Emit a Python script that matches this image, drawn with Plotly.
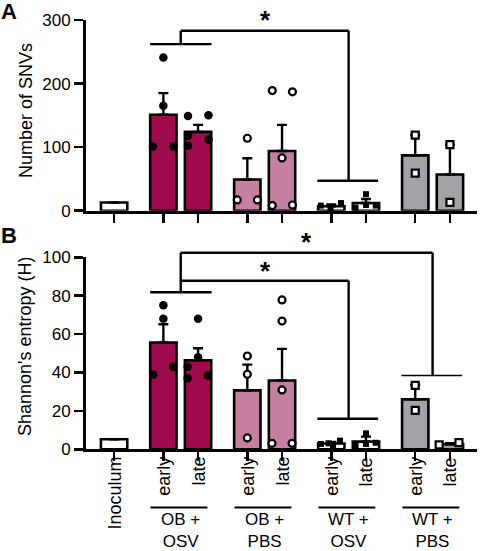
import plotly.graph_objects as go

# ---------------- data ----------------
categories = ["Inoculum", "early", "late", "early", "late", "early", "late", "early", "late"]
group_line1 = ["OB +", "OB +", "WT +", "WT +"]
group_line2 = ["OSV", "PBS", "OSV", "PBS"]

snv_mean = [13, 151, 124, 49, 94, 7, 12, 87, 57]
snv_sem = [0, 34, 11, 33.5, 41, 3, 6.5, 32, 47]
snv_points = [
    [241, 165, 101, 101],
    [149, 150, 118, 112, 102],
    [114, 17, 17],
    [189, 187, 83, 8, 9],
    [8, 4, 12],
    [26, 5, 9, 8],
    [119, 59],
    [104, 13],
]

ent_mean = [5.2, 55.6, 46.4, 30.7, 35.8, 3.0, 4.0, 26.0, 2.6]
ent_sem = [0, 9.5, 6.2, 13.4, 16.5, 0.8, 2.6, 7.5, 0.6]
ent_points = [
    [75, 68, 39, 43],
    [68, 48, 43, 37, 38.5],
    [48.6, 39.1, 5.9],
    [77.8, 66.8, 30.9, 3.1, 3.1],
    [2.8, 3.1, 4.5, 2.0],
    [8.3, 2.2, 2.8, 3.4],
    [33.3, 20.3],
    [2.3, 3.5],
]

# ---------------- layout / style (not data) ----------------
W, H = 480, 551
FONT = "Liberation Sans, Arial, Helvetica, sans-serif"
CRIMSON = "#9E0A4B"
PINK = "#C6809F"
GRAY = "#A3A3A7"
bar_colors = ["white", CRIMSON, CRIMSON, PINK, PINK, "white", "white", GRAY, GRAY]

# x positions: inoculum then 4 groups of (early, late)
GROUP_START, GROUP_STEP = 1.42, 2.42
positions = [0.0]
for g in range(4):
    positions += [GROUP_START + g * GROUP_STEP, GROUP_START + g * GROUP_STEP + 1]

snv_offsets = [
    [0, 0, -0.3, 0.29],
    [-0.29, 0.3, -0.29, 0.3, -0.29],
    [0, -0.29, 0.29],
    [-0.28, 0.3, 0, -0.28, 0.3],
    [-0.3, -0.02, 0.28],
    [0, -0.3, 0, 0.28],
    [0, 0],
    [0, 0],
]
ent_offsets = [
    [0, 0, -0.29, 0.28],
    [0, 0, -0.3, -0.3, 0.28],
    [0, 0, 0],
    [0, 0, 0, -0.29, 0.29],
    [-0.3, -0.08, 0.25, 0.05],
    [0, -0.3, 0, 0.28],
    [0, 0],
    [-0.31, 0.26],
]
marker_styles = [
    dict(symbol="circle", size=8.5, color="black", line=dict(width=0)),
    dict(symbol="circle", size=7, color="white", line=dict(width=2.2, color="black")),
    dict(symbol="square", size=6, color="black", line=dict(width=0)),
    dict(symbol="square", size=7, color="white", line=dict(width=2.2, color="black")),
]

XR = [-0.81, 10.46]
XD = [86 / W, 477 / W]
YA_D = [1 - 210.7 / H, 1 - 20 / H]
YB_D = [1 - 449.3 / H, 1 - 257.3 / H]
YA_R = [0, 300]
YB_R = [0, 100]


def xp(v):
    return XD[0] + (v - XR[0]) / (XR[1] - XR[0]) * (XD[1] - XD[0])


def ypa(v):
    return YA_D[0] + (v - YA_R[0]) / (YA_R[1] - YA_R[0]) * (YA_D[1] - YA_D[0])


def ypb(v):
    return YB_D[0] + (v - YB_R[0]) / (YB_R[1] - YB_R[0]) * (YB_D[1] - YB_D[0])


def pyx(px):
    return 1 - px / H


fig = go.Figure()

for means, sems, pts, offs, xa, ya in [
    (snv_mean, snv_sem, snv_points, snv_offsets, "x", "y"),
    (ent_mean, ent_sem, ent_points, ent_offsets, "x2", "y2"),
]:
    fig.add_trace(go.Bar(
        x=positions, y=means, width=0.76,
        marker=dict(color=bar_colors, line=dict(color="black", width=2.6)),
        error_y=dict(type="data", symmetric=False, array=sems,
                     arrayminus=[0] * len(sems), color="black",
                     thickness=2.4, width=5),
        xaxis=xa, yaxis=ya, showlegend=False, hoverinfo="skip",
    ))
    for i, (p, o) in enumerate(zip(pts, offs)):
        base = positions[i + 1]
        fig.add_trace(go.Scatter(
            x=[base + d for d in o], y=p, mode="markers",
            marker=marker_styles[i // 2], xaxis=xa, yaxis=ya,
            showlegend=False, cliponaxis=False, hoverinfo="skip",
        ))

axis_common = dict(
    range=XR, domain=XD, showline=True, linecolor="black", linewidth=3,
    ticks="outside", ticklen=9, tickwidth=2.5, tickcolor="black",
    tickvals=positions, showgrid=False, zeroline=False, fixedrange=True,
    showticklabels=False, automargin=False,
)
yaxis_common = dict(
    showline=True, linecolor="black", linewidth=3, ticks="outside",
    ticklen=9, tickwidth=2.5, tickcolor="black", showgrid=False, zeroline=False,
    tickfont=dict(size=17), automargin=False, fixedrange=True,
)
fig.update_layout(
    width=W, height=H,
    margin=dict(l=0, r=0, t=0, b=0),
    paper_bgcolor="white", plot_bgcolor="white",
    font=dict(family=FONT, size=17, color="black"),
    bargap=0,
    xaxis=dict(axis_common, anchor="y"),
    xaxis2=dict(axis_common, anchor="y2"),
    yaxis=dict(yaxis_common, range=YA_R, domain=YA_D, anchor="x",
               tickvals=[0, 100, 200, 300]),
    yaxis2=dict(yaxis_common, range=YB_R, domain=YB_D, anchor="x2",
                tickvals=[0, 20, 40, 60, 80, 100]),
)

shapes = []


def seg(x0, y0, x1, y1, w=2.4):
    shapes.append(dict(type="line", xref="paper", yref="paper", x0=x0, y0=y0,
                       x1=x1, y1=y1, line=dict(color="black", width=w)))


def grp(g):
    return positions[1 + 2 * g], positions[2 + 2 * g]


# Panel A bracket: OB+OSV vs WT+OSV
e0, l0 = grp(0)
e2, l2 = grp(2)
c0, c2 = (e0 + l0) / 2, (e2 + l2) / 2
seg(xp(e0 - 0.38), ypa(262), xp(l0 + 0.39), ypa(262))
seg(xp(c0), ypa(262), xp(c0), ypa(283))
seg(xp(c0), ypa(283), xp(c2), ypa(283))
seg(xp(c2), ypa(283), xp(c2), ypa(47))
seg(xp(e2 - 0.4), ypa(47), xp(l2 + 0.35), ypa(47))

# Panel B brackets
e3, l3 = grp(3)
c3 = (e3 + l3) / 2
seg(xp(e0 - 0.38), ypb(81.8), xp(l0 + 0.39), ypb(81.8))
seg(xp(c0), ypb(81.8), xp(c0), ypb(102.4))
seg(xp(c0), ypb(87.8), xp(c2), ypb(87.8))
seg(xp(c2), ypb(87.8), xp(c2), ypb(15.9))
seg(xp(e2 - 0.4), ypb(15.9), xp(l2 + 0.35), ypb(15.9))
seg(xp(c0), ypb(102.4), xp(c3), ypb(102.4))
seg(xp(c3), ypb(102.4), xp(c3), ypb(38.5))
seg(xp(e3 - 0.4), ypb(38.5), xp(l3 + 0.35), ypb(38.5), w=1.5)

# group underlines below panel B
for g in range(4):
    e, l = grp(g)
    seg(xp(e - 0.37), pyx(507.5), xp(l + 0.27), pyx(507.5), w=2.2)

fig.update_layout(shapes=shapes)

ann = []


def text(x, y, s, size=18, bold=False, angle=0, xanchor="center", yanchor="middle"):
    ann.append(dict(xref="paper", yref="paper", x=x, y=y, text=f"<b>{s}</b>" if bold else s,
                    showarrow=False, font=dict(family=FONT, size=size, color="black"),
                    textangle=angle, xanchor=xanchor, yanchor=yanchor,
                    borderpad=0, borderwidth=0))


# category labels (rotated) under panel B
for p, lab in zip(positions, categories):
    text(xp(p), pyx(457), lab, size=18, angle=-90, yanchor="top")

for g in range(4):
    e, l = grp(g)
    c = (e + l) / 2
    text(xp(c), pyx(550.5), group_line1[g] + "<br>" + group_line2[g], size=17,
         yanchor="bottom")

text(26 / W, pyx(111), "Number of SNVs", angle=-90)
text(25 / W, pyx(346), "Shannon's entropy (H)", angle=-90)
text(1 / W, pyx(11.5), "A", size=22, bold=True, xanchor="left")
text(1 / W, pyx(235), "B", size=22, bold=True, xanchor="left")

# significance stars
text(265 / W, pyx(20), "*", size=26, bold=True)
text(306.7 / W, pyx(242), "*", size=26, bold=True)
text(265 / W, pyx(270.5), "*", size=26, bold=True)

fig.update_layout(annotations=ann)
fig.write_html(
    "out.html",
    config={"displayModeBar": False, "staticPlot": True},
    post_script="document.body.style.margin='0';document.body.style.overflow='hidden';",
)
